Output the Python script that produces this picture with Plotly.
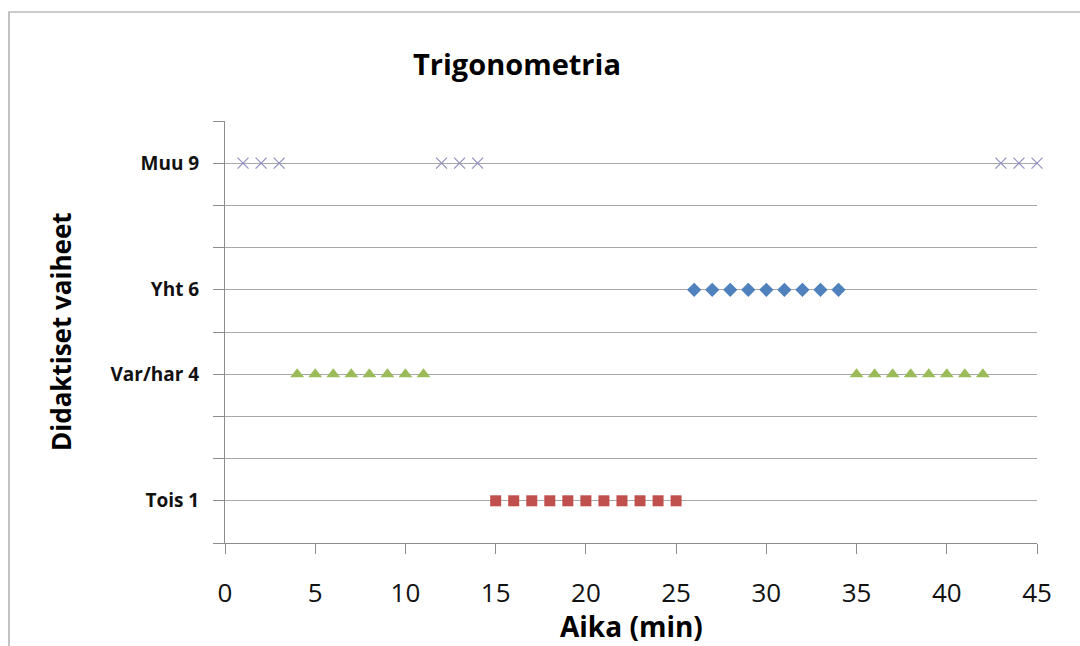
import plotly.graph_objects as go

# Data
category_levels = [1, 4, 6, 9]
category_labels = ["Tois 1", "Var/har 4", "Yht 6", "Muu 9"]

tois_x = [15, 16, 17, 18, 19, 20, 21, 22, 23, 24, 25]
tois_y = [1] * len(tois_x)

varhar_x = [4, 5, 6, 7, 8, 9, 10, 11, 35, 36, 37, 38, 39, 40, 41, 42]
varhar_y = [4] * len(varhar_x)

yht_x = [26, 27, 28, 29, 30, 31, 32, 33, 34]
yht_y = [6] * len(yht_x)

muu_x = [1, 2, 3, 12, 13, 14, 43, 44, 45]
muu_y = [9] * len(muu_x)

x_ticks = [0, 5, 10, 15, 20, 25, 30, 35, 40, 45]
y_grid = list(range(0, 11))

FONT = "Open Sans"

fig = go.Figure()
fig.add_trace(go.Scatter(x=tois_x, y=tois_y, mode="markers", name="Tois",
                         marker=dict(symbol="square", size=11, color="#C0504D"),
                         cliponaxis=False))
fig.add_trace(go.Scatter(x=varhar_x, y=varhar_y, mode="markers", name="Var/har",
                         marker=dict(symbol="triangle-up", size=12, color="#9BBB59"),
                         cliponaxis=False))
fig.add_trace(go.Scatter(x=yht_x, y=yht_y, mode="markers", name="Yht",
                         marker=dict(symbol="diamond", size=11, color="#4F81BD"),
                         cliponaxis=False))
fig.add_trace(go.Scatter(x=muu_x, y=muu_y, mode="markers", name="Muu",
                         marker=dict(symbol="x-thin", size=11, color="#8F8FC0",
                                     line=dict(width=1.2, color="#8F8FC0")),
                         cliponaxis=False))

ticktext = []
for v in y_grid:
    if v in category_levels:
        ticktext.append("<b>" + category_labels[category_levels.index(v)] + "</b>")
    else:
        ticktext.append("")

fig.update_layout(
    width=1080, height=646,
    margin=dict(l=225, r=43, t=121, b=103),
    paper_bgcolor="white", plot_bgcolor="white",
    showlegend=False,
    font=dict(family=FONT, color="#000000"),
)

fig.update_xaxes(
    range=[0, 45], tickvals=x_ticks, ticktext=[str(v) for v in x_ticks],
    showgrid=False, zeroline=False,
    showline=True, linecolor="#8C8C8C", linewidth=1,
    ticks="outside", ticklen=10, tickcolor="#8C8C8C", tickwidth=1,
    tickfont=dict(family=FONT, size=26, color="#111111"),
    ticklabelstandoff=17,
)
fig.update_yaxes(
    range=[0, 10], tickvals=y_grid, ticktext=ticktext,
    showgrid=True, gridcolor="#A8A8A8", gridwidth=1, zeroline=False,
    showline=True, linecolor="#8C8C8C", linewidth=1,
    ticks="outside", ticklen=11, tickcolor="#8C8C8C", tickwidth=1,
    tickfont=dict(family=FONT, size=19, color="#111111"),
    ticklabelstandoff=10,
)

# Title and axis titles
fig.add_annotation(text="<b>Trigonometria</b>", xref="paper", yref="paper",
                   x=(517 - 225) / 812, y=(543 - 63) / 422, showarrow=False,
                   xanchor="center", yanchor="middle",
                   font=dict(family=FONT, size=29, color="#000000"))
fig.add_annotation(text="<b>Aika (min)</b>", xref="paper", yref="paper",
                   x=0.5, y=(543 - 626) / 422, showarrow=False,
                   xanchor="center", yanchor="middle",
                   font=dict(family=FONT, size=28, color="#000000"))
fig.add_annotation(text="<b>Didaktiset vaiheet</b>", xref="paper", yref="paper",
                   x=(61 - 225) / 812, y=0.5, showarrow=False, textangle=-90,
                   xanchor="center", yanchor="middle",
                   font=dict(family=FONT, size=26, color="#000000"))

# Outer chart-area border (left and top edges visible)
fig.add_shape(type="rect", xref="paper", yref="paper",
              x0=(9 - 225) / 812, y0=(543 - 700) / 422,
              x1=(1100 - 225) / 812, y1=(543 - 12) / 422,
              line=dict(color="#9A9A9A", width=1.2), fillcolor="rgba(0,0,0,0)",
              layer="below")

fig.write_html("out.html")
